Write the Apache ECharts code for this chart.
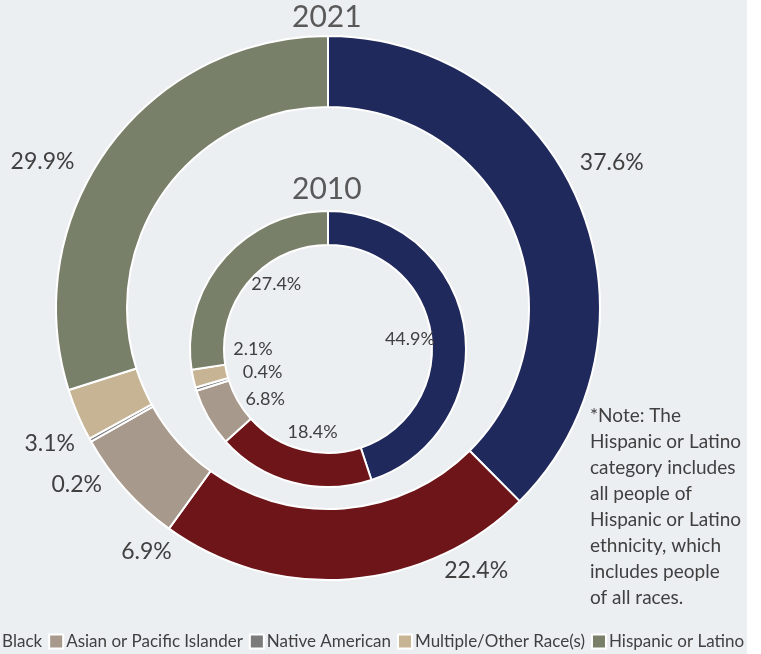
<!DOCTYPE html>
<html>
<head>
<meta charset="utf-8">
<script src="https://cdn.jsdelivr.net/npm/echarts@6/dist/echarts.min.js"></script>
<style>
html,body{margin:0;padding:0;background:#ffffff;}
#chart{width:747px;height:654px;background:#ECEFF2;}
</style>
</head>
<body>
<div id="chart"></div>
<script>
// Data
var categories = ['White', 'Black', 'Asian or Pacific Islander', 'Native American', 'Multiple/Other Race(s)', 'Hispanic or Latino'];
var values2021 = [37.6, 22.4, 6.9, 0.2, 3.1, 29.9];
var values2010 = [44.9, 18.4, 6.8, 0.4, 2.1, 27.4];
var yearLabels = ['2021', '2010'];
var noteText = '*Note: The\nHispanic or Latino\ncategory includes\nall people of\nHispanic or Latino\nethnicity, which\nincludes people\nof all races.';

// Styles / layout (kept separate from data)
var colors = ['#20295B', '#6D1519', '#A8998D', '#7B7B7B', '#C7B495', '#79806A'];
var outerLabelOffsets = [[-1, -28], [124, -44], [48, 38], [18, 27], [5, 15], [-37, 36]];
var innerLabelOffsets = [[-1, 4], [6, 2], [10, 8], [15, -1], [7, -18], [12, -10]];
var FONT = 'Lato, "Open Sans", sans-serif';
var TXT = '#404040';

function pieData(vals) {
  return categories.map(function (c, i) { return { name: c, value: vals[i] }; });
}
function labelData(vals, offsets) {
  return categories.map(function (c, i) {
    return { name: c, value: vals[i], label: { offset: offsets[i] } };
  });
}

var chart = echarts.init(document.getElementById('chart'));
var outerCenter = [328, 308];
var innerCenter = [328, 349];

chart.setOption({
  color: colors,
  animation: false,
  legend: {
    data: categories,
    left: -91,
    top: 628,
    width: 1200,
    orient: 'horizontal',
    icon: 'rect',
    itemWidth: 14,
    itemHeight: 14,
    itemGap: 6,
    textStyle: { fontFamily: FONT, fontSize: 17, color: TXT, padding: [0, 0, 0, -2] }
  },
  graphic: [
    { type: 'text', left: 328 - 36, top: 2, style: { text: yearLabels[0], font: '30px ' + FONT, fill: '#595959' } },
    { type: 'text', left: 328 - 36, top: 174, style: { text: yearLabels[1], font: '30px ' + FONT, fill: '#595959' } },
    { type: 'text', left: 590, top: 403, style: { text: noteText, font: '19px ' + FONT, fill: TXT, lineHeight: 26 } }
  ],
  series: [
    {
      name: yearLabels[0], type: 'pie', center: outerCenter, radius: [201, 272],
      startAngle: 90, clockwise: true, avoidLabelOverlap: false,
      itemStyle: { borderColor: '#ffffff', borderWidth: 2 },
      label: { show: false }, labelLine: { show: false },
      emphasis: { disabled: true },
      data: pieData(values2021)
    },
    {
      name: yearLabels[0] + ' labels', type: 'pie', center: outerCenter, radius: [0, 610],
      startAngle: 90, clockwise: true, silent: true, avoidLabelOverlap: false, z: 5,
      itemStyle: { color: 'rgba(0,0,0,0)', borderWidth: 0 },
      label: { show: true, position: 'inside', formatter: '{c}%', fontFamily: FONT, fontSize: 23, color: TXT },
      labelLine: { show: false },
      emphasis: { disabled: true },
      data: labelData(values2021, outerLabelOffsets)
    },
    {
      name: yearLabels[1], type: 'pie', center: innerCenter, radius: [104, 138],
      startAngle: 90, clockwise: true, avoidLabelOverlap: false,
      itemStyle: { borderColor: '#ffffff', borderWidth: 2 },
      label: { show: false }, labelLine: { show: false },
      emphasis: { disabled: true },
      data: pieData(values2010)
    },
    {
      name: yearLabels[1] + ' labels', type: 'pie', center: innerCenter, radius: [0, 162],
      startAngle: 90, clockwise: true, silent: true, avoidLabelOverlap: false, z: 5,
      itemStyle: { color: 'rgba(0,0,0,0)', borderWidth: 0 },
      label: { show: true, position: 'inside', formatter: '{c}%', fontFamily: FONT, fontSize: 18, color: TXT },
      labelLine: { show: false },
      emphasis: { disabled: true },
      data: labelData(values2010, innerLabelOffsets)
    }
  ]
});
</script>
</body>
</html>
